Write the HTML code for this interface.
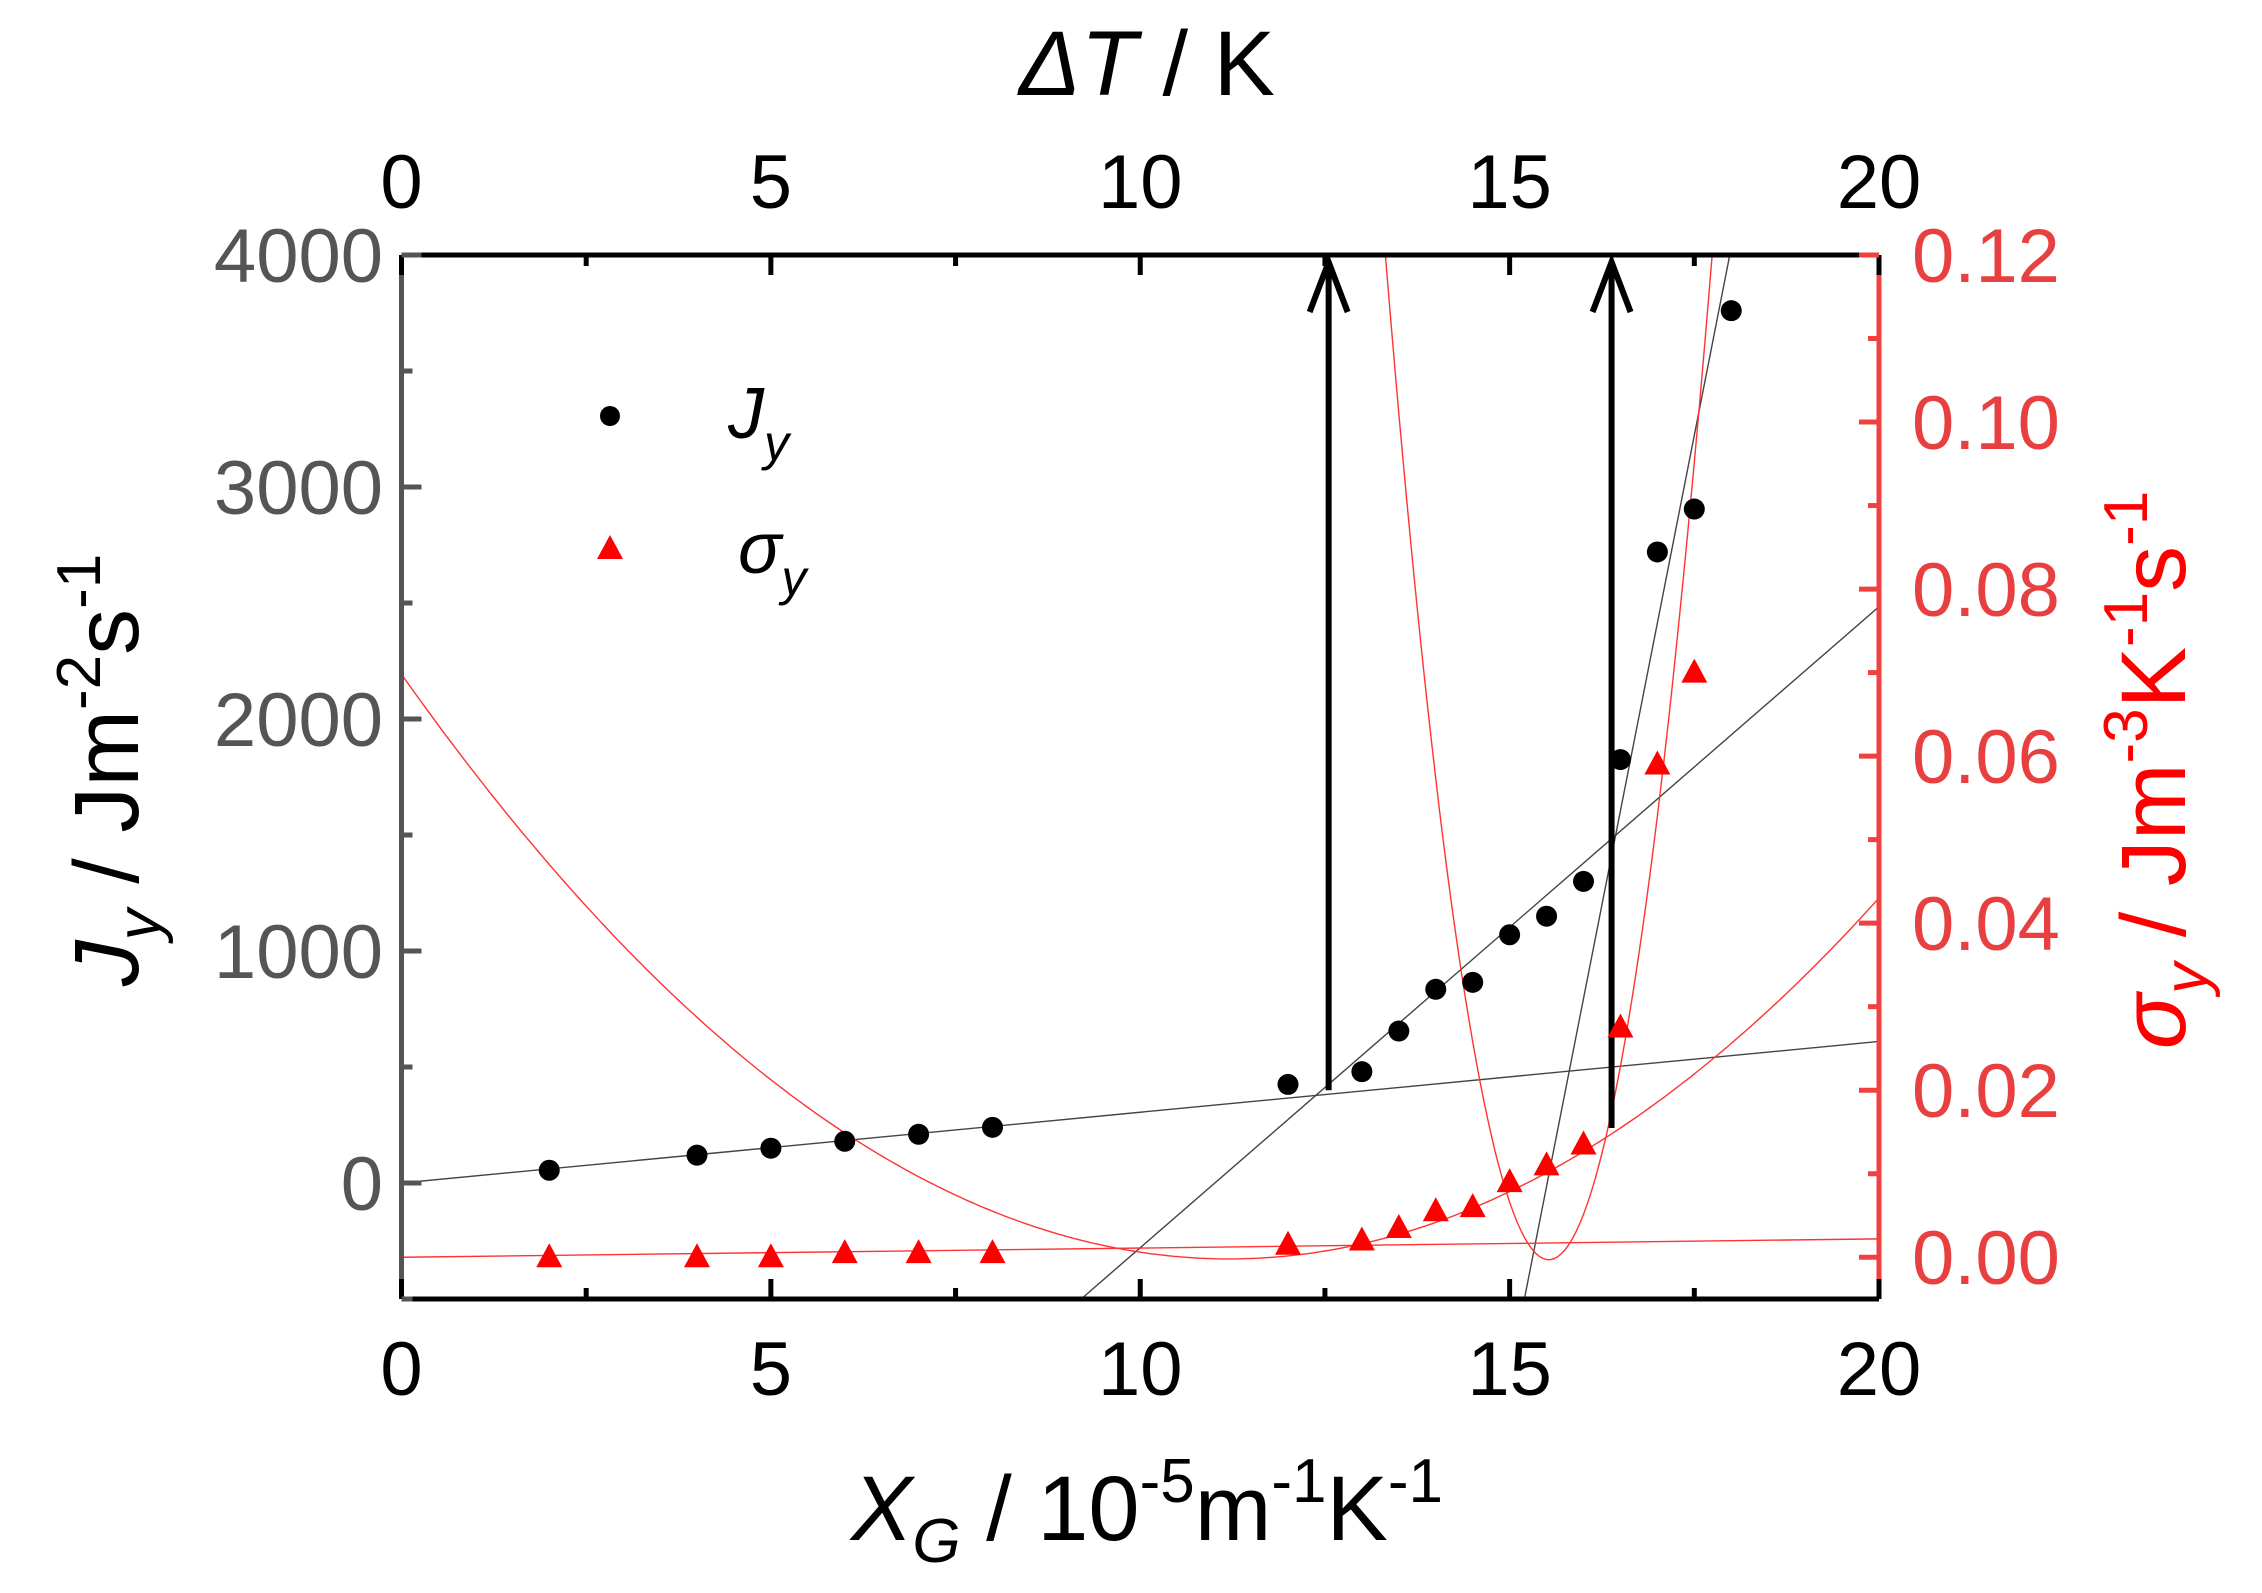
<!DOCTYPE html>
<html><head><meta charset="utf-8"><style>
html,body{margin:0;padding:0;background:#fff;}
svg{display:block;font-family:"Liberation Sans",sans-serif;}
</style></head><body>
<svg id="chart" width="2262" height="1593" viewBox="0 0 2262 1593">
<g id="fits"></g>
<g id="axes"></g>
<g id="marks"></g>
<g id="legend">
  <circle cx="610" cy="416" r="10" fill="#000"/>
  <text x="728" y="438" font-size="72" font-style="italic">J<tspan font-size="50" dy="22">y</tspan></text>
  <polygon points="610,535 623,559 597,559" fill="#f00"/>
  <text x="738" y="573" font-size="72" font-style="italic">σ<tspan font-size="50" dy="22">y</tspan></text>
</g>
<text x="1147" y="1540" font-size="92" text-anchor="middle"><tspan font-style="italic">X</tspan><tspan font-size="62" font-style="italic" dy="22">G</tspan><tspan dy="-22"> / 10</tspan><tspan font-size="62" dy="-38">-5</tspan><tspan dy="38">m</tspan><tspan font-size="62" dy="-38">-1</tspan><tspan dy="38">K</tspan><tspan font-size="62" dy="-38">-1</tspan></text>
<text x="1147" y="95" font-size="92" text-anchor="middle"><tspan font-style="italic">ΔT</tspan> / K</text>
<text transform="translate(138,770) rotate(-90)" font-size="92" text-anchor="middle"><tspan font-style="italic">J</tspan><tspan font-size="62" font-style="italic" dy="22">y</tspan><tspan dy="-22"> / Jm</tspan><tspan font-size="62" dy="-38">-2</tspan><tspan dy="38">s</tspan><tspan font-size="62" dy="-38">-1</tspan></text>
<text transform="translate(2185,770) rotate(-90)" font-size="92" text-anchor="middle" fill="#f00"><tspan font-style="italic">σ</tspan><tspan font-size="62" font-style="italic" dy="22">y</tspan><tspan dy="-22"> / Jm</tspan><tspan font-size="62" dy="-38">-3</tspan><tspan dy="38">K</tspan><tspan font-size="62" dy="-38">-1</tspan><tspan dy="38">s</tspan><tspan font-size="62" dy="-38">-1</tspan></text>
</svg>
<script>
const jX = [2,4,5,6,7,8,12,13,13.5,14,14.5,15,15.5,16,16.5,17,17.5,18];
const jY = [55,120,150,180,210,240,425,480,655,835,865,1070,1150,1300,1825,2720,2905,3760];
const sX = [2,4,5,6,7,8,12,13,13.5,14,14.5,15,15.5,16,16.5,17,17.5];
const sY = [0,0,0,0.0005,0.0005,0.0005,0.0015,0.002,0.0035,0.0055,0.006,0.009,0.011,0.0135,0.0275,0.059,0.07];
const xTicks = [0,5,10,15,20];
const leftTicks = [0,1000,2000,3000,4000];
const rightTicks = [0,0.02,0.04,0.06,0.08,0.10,0.12];
const rightTickLabels = ["0.00","0.02","0.04","0.06","0.08","0.10","0.12"];
const lineLow = [0,0,20,610];
const lineMid = [9.2,-500,20,2484];
const lineSteep = [15.2,-500,17.98,4000];
const parabWide = [0.000558,11.2,-0.0002];
const parabNarrow = [0.0246,15.53,-0.0003];
const sigmaLine = [0,0,20,0.0022];
const arrowsX = [12.55,16.38];
const arrowsBaseJ = [400,237];

const L=401.5,R=1879,T=255,B=1299;
const X=v=>L+(v-0)/20*(R-L);
const YL=v=>B-(v+500)/4500*(B-T);
const YR=v=>B-(v+0.005)/0.125*(B-T);
const NS='http://www.w3.org/2000/svg';
function mk(tag,attrs,parent){const e=document.createElementNS(NS,tag);for(const k in attrs)e.setAttribute(k,attrs[k]);parent.appendChild(e);return e;}
const fits=document.getElementById('fits'),axes=document.getElementById('axes'),marks=document.getElementById('marks');

function clipLine(a,yf,color,name){
  const el=mk('line',{x1:X(a[0]),y1:yf(a[1]),x2:X(a[2]),y2:yf(a[3]),stroke:color,'stroke-width':1.4,'clip-path':'url(#pc)'},fits);
  
  
}
const defs=mk('defs',{},document.getElementById('chart'));
const cp=mk('clipPath',{id:'pc'},defs);mk('rect',{x:L,y:T,width:R-L,height:B-T},cp);
clipLine(lineLow,YL,'#444','fit-line-low');
clipLine(lineMid,YL,'#444','fit-line-mid');
clipLine(lineSteep,YL,'#444','fit-line-steep');
clipLine(sigmaLine,YR,'#f33','sigma-fit-line');
function parab(p,name){
  let d='';for(let i=0;i<=400;i++){const x=i/20;const y=p[0]*(x-p[1])**2+p[2];d+=(i?'L':'M')+X(x).toFixed(1)+','+YR(y).toFixed(1);}
  const el=mk('path',{d:d,fill:'none',stroke:'#f33','stroke-width':1.4,'clip-path':'url(#pc)'},fits);
  
  
}
parab(parabWide,'sigma-parabola-wide');
parab(parabNarrow,'sigma-parabola-narrow');
arrowsX.forEach((ax,i)=>{
  const x=X(ax);
  const l=mk('line',{x1:x,y1:YL(arrowsBaseJ[i]),x2:x,y2:T+8,stroke:'#000','stroke-width':6},fits);
  
  
  const h=mk('polyline',{points:`${x-19},${T+57} ${x},${T+7} ${x+19},${T+57}`,fill:'none',stroke:'#000','stroke-width':6},fits);
  
  
});
const f1=mk('line',{x1:L,y1:T,x2:R,y2:T,stroke:'#000','stroke-width':5},axes);

const f2=mk('line',{x1:L,y1:B,x2:R,y2:B,stroke:'#000','stroke-width':5},axes);

const f3=mk('line',{x1:L,y1:T,x2:L,y2:B,stroke:'#555','stroke-width':5},axes);

const f4=mk('line',{x1:R,y1:T,x2:R,y2:B,stroke:'#f04040','stroke-width':5},axes);

for(let v=0;v<=20;v+=2.5){
  const len=(v%5===0)?20:11;
  mk('line',{x1:X(v),y1:B,x2:X(v),y2:B-len,stroke:'#000','stroke-width':5},axes);
  mk('line',{x1:X(v),y1:T,x2:X(v),y2:T+len,stroke:'#000','stroke-width':5},axes);
}
xTicks.forEach(v=>{
  const t=mk('text',{x:X(v),y:1395,'font-size':76,'text-anchor':'middle'},axes);t.textContent=v;
  
  const t2=mk('text',{x:X(v),y:208,'font-size':76,'text-anchor':'middle'},axes);t2.textContent=v;
  
});
for(let v=-500;v<=4000;v+=500){
  const len=(v%1000===0)?20:11;
  mk('line',{x1:L,y1:YL(v),x2:L+len,y2:YL(v),stroke:'#555','stroke-width':5},axes);
}
leftTicks.forEach(v=>{
  const t=mk('text',{x:383,y:YL(v)+27,'font-size':76,'text-anchor':'end',fill:'#555'},axes);t.textContent=v;
  
});
for(let k=0;k<=12;k++){const v=k*0.01;const len=(k%2===0)?20:11;
  mk('line',{x1:R,y1:YR(v),x2:R-len,y2:YR(v),stroke:'#f04040','stroke-width':5},axes);}
rightTicks.forEach((v,i)=>{
  const t=mk('text',{x:1912,y:YR(v)+27,'font-size':76,fill:'#e84040'},axes);t.textContent=rightTickLabels[i];
  
});
jX.forEach((x,i)=>{
  const c=mk('circle',{cx:X(x),cy:YL(jY[i]),r:10.5,fill:'#000'},marks);
  
  
});
sX.forEach((x,i)=>{
  const cx=X(x),cy=YR(sY[i]);
  const p=mk('polygon',{points:`${cx},${cy-14} ${cx+13},${cy+10} ${cx-13},${cy+10}`,fill:'#f00'},marks);
  
  
});
</script>
</body></html>
